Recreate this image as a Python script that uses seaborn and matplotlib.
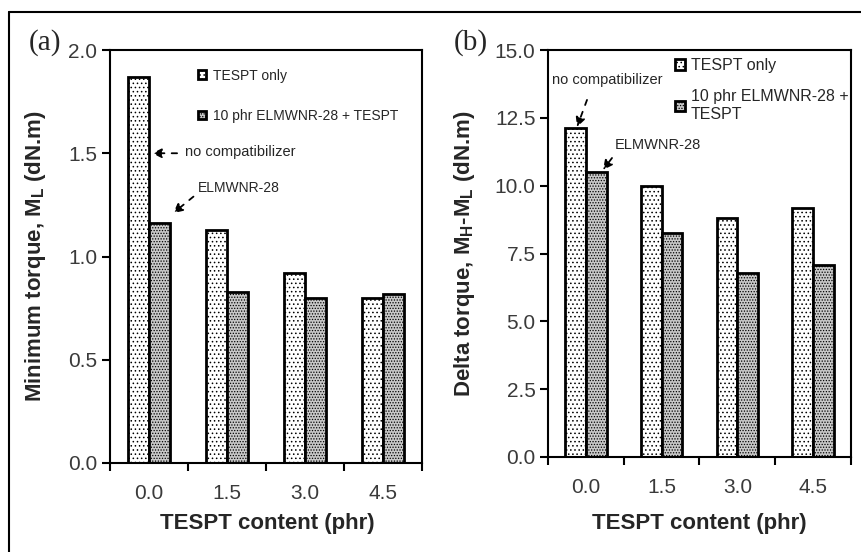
import matplotlib
matplotlib.use('Agg')
import matplotlib.pyplot as plt
import seaborn as sns
import pandas as pd
from matplotlib.patches import Rectangle
from matplotlib.lines import Line2D

# ---------------- data ----------------
tespt_content = ["0.0", "1.5", "3.0", "4.5"]
series_names = ["TESPT only", "10 phr ELMWNR-28 + TESPT"]
min_torque_tespt = [1.87, 1.13, 0.92, 0.80]
min_torque_elmwnr = [1.16, 0.83, 0.80, 0.82]
delta_torque_tespt = [12.13, 10.0, 8.82, 9.18]
delta_torque_elmwnr = [10.5, 8.24, 6.78, 7.08]
yticks_a = [0.0, 0.5, 1.0, 1.5, 2.0]
yticks_b = [0.0, 2.5, 5.0, 7.5, 10.0, 12.5, 15.0]

sns.set_theme(style='ticks')
plt.rcParams['font.family'] = ['Liberation Sans', 'DejaVu Sans']
plt.rcParams['mathtext.fontset'] = 'custom'
plt.rcParams['mathtext.rm'] = 'Liberation Sans:bold'
plt.rcParams['mathtext.bf'] = 'Liberation Sans:bold'
plt.rcParams['mathtext.default'] = 'rm'
plt.rcParams['hatch.linewidth'] = 0.6

fills = ['white', '#c8c8c8']
hatches = ['....', '......']


def make_df(v1, v2):
    return pd.DataFrame({
        'content': tespt_content * 2,
        'series': [series_names[0]] * len(v1) + [series_names[1]] * len(v2),
        'value': list(v1) + list(v2),
    })


fig = plt.figure(figsize=(8.62, 5.52), dpi=100)
ax_a = fig.add_axes([110 / 862, 1 - 463 / 552, 312 / 862, 413 / 552])
ax_b = fig.add_axes([548 / 862, 1 - 457 / 552, 303 / 862, 407 / 552])


def draw(ax, df, ymax, yticks, ylabel):
    sns.barplot(data=df, x='content', y='value', hue='series',
                order=tespt_content, hue_order=series_names,
                palette=fills, saturation=1, width=0.55, gap=0,
                edgecolor='black', linewidth=2, errorbar=None,
                legend=False, ax=ax)
    for cont, h in zip(ax.containers, hatches):
        for bar in cont:
            bar.set_hatch(h)
    ax.set_xlim(-0.5, len(tespt_content) - 0.5)
    ax.set_ylim(0, ymax)
    ax.set_yticks(yticks)
    ax.set_yticklabels([f'{v:.1f}' for v in yticks])
    ax.set_xticks([i - 0.5 for i in range(len(tespt_content) + 1)])
    ax.set_xticklabels([])
    ax.set_xticks(range(len(tespt_content)), minor=True)
    ax.set_xticklabels(tespt_content, minor=True)
    ax.tick_params(axis='x', which='major', length=6, width=1.5,
                   direction='out', color='black')
    ax.tick_params(axis='x', which='minor', length=0, pad=15,
                   labelsize=15, labelcolor='#3a3a3a')
    ax.tick_params(axis='y', length=6, width=1.5, pad=3,
                   labelsize=15, labelcolor='#3a3a3a', color='black')
    for s in ax.spines.values():
        s.set_visible(True)
        s.set_linewidth(1.5)
        s.set_color('black')
    ax.set_xlabel('TESPT content (phr)', fontsize=16, fontweight='bold')
    ax.set_ylabel(ylabel, fontsize=16, fontweight='bold')


draw(ax_a, make_df(min_torque_tespt, min_torque_elmwnr), 2.0, yticks_a,
     r'Minimum torque, M$_\mathregular{L}$ (dN.m)')
draw(ax_b, make_df(delta_torque_tespt, delta_torque_elmwnr), 15.0, yticks_b,
     r'Delta torque, M$_\mathregular{H}$-M$_\mathregular{L}$ (dN.m)')

ax_a.xaxis.set_label_coords(0.503, -0.121)
ax_a.yaxis.set_label_coords(-0.20, 0.5)
ax_b.xaxis.set_label_coords(0.50, -0.138)
ax_b.yaxis.set_label_coords(-0.234, 0.5)


def handles():
    return [Rectangle((0, 0), 1, 1, facecolor=f, edgecolor='black',
                      linewidth=2, hatch=h) for f, h in zip(fills, hatches)]


ax_a.legend(handles(), series_names, loc='upper left',
            bbox_to_anchor=(0.282, 0.955), frameon=False, fontsize=10,
            handlelength=0.6, handleheight=0.6, handletextpad=0.5,
            labelspacing=1.9, borderpad=0, borderaxespad=0)
ax_b.legend(handles(), ['TESPT only', '10 phr ELMWNR-28 +\nTESPT'],
            loc='upper left', bbox_to_anchor=(0.419, 0.98), frameon=False,
            fontsize=11.5, handlelength=0.6, handleheight=0.6,
            handletextpad=0.4, labelspacing=1.0, borderpad=0,
            borderaxespad=0)

arrow = dict(arrowstyle='-|>', linestyle=(0, (3, 4)), color='black',
             lw=1.3, mutation_scale=14, shrinkA=0, shrinkB=0)

# panel (a) annotations
ax_a.text(0.46, 1.506, 'no compatibilizer', fontsize=10.5, ha='left', va='center')
ax_a.annotate('', xy=(0.04, 1.50), xytext=(0.36, 1.50), arrowprops=arrow)
ax_a.text(0.63, 1.33, 'ELMWNR-28', fontsize=10, ha='left', va='center')
ax_a.annotate('', xy=(0.31, 1.21), xytext=(0.57, 1.29), arrowprops=arrow)

# panel (b) annotations
ax_b.text(-0.447, 13.9, 'no compatibilizer', fontsize=10.5, ha='left', va='center')
ax_b.annotate('', xy=(-0.117, 12.16), xytext=(0.015, 13.16), arrowprops=arrow)
ax_b.text(0.384, 11.5, 'ELMWNR-28', fontsize=10.5, ha='left', va='center')
ax_b.annotate('', xy=(0.226, 10.58), xytext=(0.345, 11.02), arrowprops=arrow)

# panel letters
fig.text(45 / 862, 1 - 43 / 552, '(a)', family='Liberation Serif',
         fontsize=21, ha='center', va='center')
fig.text(471 / 862, 1 - 43 / 552, '(b)', family='Liberation Serif',
         fontsize=21, ha='center', va='center')

# outer frame (top and left edges visible)
fig.add_artist(Line2D([9 / 862, 1], [1 - 12 / 552, 1 - 12 / 552],
                      transform=fig.transFigure, color='black', lw=1.5))
fig.add_artist(Line2D([9 / 862, 9 / 862], [0, 1 - 12 / 552],
                      transform=fig.transFigure, color='black', lw=1.5))

fig.savefig('out.png', dpi=100)
